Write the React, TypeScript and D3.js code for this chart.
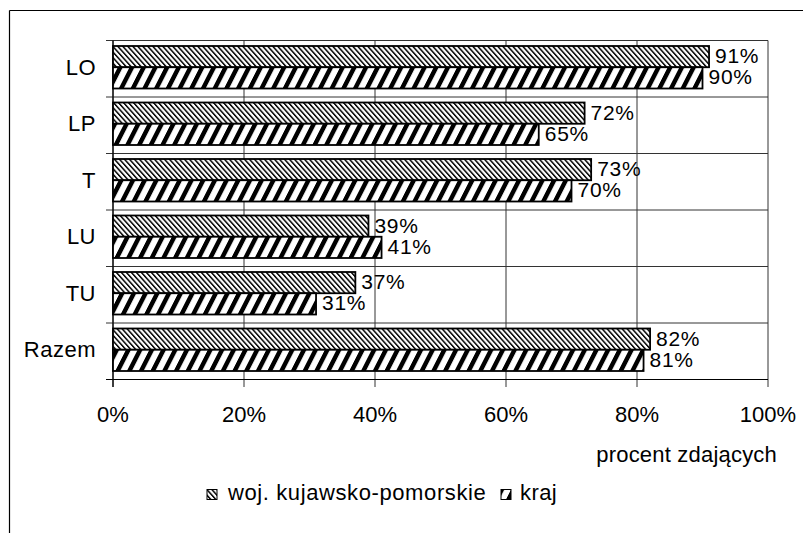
import React from "react";
import * as d3 from "d3";

const categories = ["LO", "LP", "T", "LU", "TU", "Razem"];
const seriesNames = ["woj. kujawsko-pomorskie", "kraj"];
const wojValues = [91, 72, 73, 39, 37, 82];
const krajValues = [90, 65, 70, 41, 31, 81];
const xTicks = [0, 20, 40, 60, 80, 100];
const axisTitle = "procent zdających";

const W = 803;
const H = 533;
const FONT = "'Liberation Sans', Arial, sans-serif";

export default function App() {
  const x = d3.scaleLinear().domain([0, 100]).range([113, 768]);
  const y = d3.scaleBand<string>().domain(categories).range([40.5, 379.5]);
  const bw = y.bandwidth();
  const barOff = 5.5;
  const barH = 21.25;
  const series = [wojValues, krajValues];
  const fills = ["url(#patWoj)", "url(#patKraj)"];

  return (
    <svg
      width={W}
      height={H}
      style={{ position: "absolute", left: 0, top: 0, background: "#fff" }}
      fontFamily={FONT}
    >
      <defs>
        <pattern id="patWoj" patternUnits="userSpaceOnUse" width={5} height={5} patternTransform="skewX(42)">
          <rect x={0} y={0} width={5} height={5} fill="#fff" />
          <rect x={0} y={0} width={2.2} height={5} fill="#111" />
        </pattern>
        <pattern id="patKraj" patternUnits="userSpaceOnUse" width={11.7} height={10} patternTransform="skewX(-27)">
          <rect x={0} y={0} width={11.7} height={10} fill="#fff" />
          <rect x={0} y={0} width={5} height={10} fill="#000" />
        </pattern>
      </defs>
      <rect x={0} y={0} width={W} height={H} fill="#fff" />
      {/* outer frame (clipped on right/bottom) */}
      <line x1={9.5} y1={10.5} x2={W} y2={10.5} stroke="#000" strokeWidth={1.2} />
      <line x1={9.5} y1={10.5} x2={9.5} y2={H} stroke="#000" strokeWidth={1.2} />

      {/* vertical gridlines + bottom ticks */}
      {xTicks.map((t) => (
        <line key={"g" + t} x1={x(t)} x2={x(t)} y1={40.5} y2={387} stroke="#333" strokeWidth={1} />
      ))}
      {/* horizontal separators */}
      {d3.range(categories.length + 1).map((i) => {
        const yy = 40.5 + i * bw;
        return <line key={"h" + i} x1={106} x2={x(100)} y1={yy} y2={yy} stroke="#333" strokeWidth={1} />;
      })}
      {/* axes */}
      <line x1={x(0)} x2={x(0)} y1={40.5} y2={387} stroke="#000" strokeWidth={1.2} />
      <line x1={106} x2={x(100)} y1={379.5} y2={379.5} stroke="#000" strokeWidth={1.2} />

      {/* bars */}
      {categories.map((c, i) => (
        <g key={c}>
          {series.map((vals, s) => {
            const by = (y(c) as number) + barOff + s * barH;
            return (
              <g key={s}>
                <rect
                  x={x(0)}
                  y={by}
                  width={x(vals[i]) - x(0)}
                  height={barH}
                  fill={fills[s]}
                  stroke="#000"
                  strokeWidth={1.8}
                />
                <text
                  x={x(vals[i]) + 6}
                  y={by + barH / 2 + 6.5}
                  fontSize={21}
                  letterSpacing={0.7}
                  fill="#000"
                >
                  {vals[i] + "%"}
                </text>
              </g>
            );
          })}
          <text
            x={96}
            y={(y(c) as number) + bw / 2 + 6}
            fontSize={22}
            letterSpacing={0.5}
            textAnchor="end"
            fill="#000"
          >
            {c}
          </text>
        </g>
      ))}

      {/* x tick labels */}
      {xTicks.map((t) => (
        <text key={"t" + t} x={x(t)} y={421.5} fontSize={22} textAnchor="middle" fill="#000">
          {t + "%"}
        </text>
      ))}
      <text x={777} y={461.5} fontSize={22} letterSpacing={0.2} textAnchor="end" fill="#000">
        {axisTitle}
      </text>

      {/* legend */}
      <rect x={207} y={489.5} width={10} height={10} fill="url(#patWoj)" stroke="#000" strokeWidth={1} />
      <text x={228} y={499.5} fontSize={22} letterSpacing={0.6} fill="#000">
        {seriesNames[0]}
      </text>
      <rect x={501} y={489.5} width={10} height={10} fill="url(#patKraj)" stroke="#000" strokeWidth={1} />
      <text x={520} y={499.5} fontSize={22} letterSpacing={0.4} fill="#000">
        {seriesNames[1]}
      </text>
    </svg>
  );
}
